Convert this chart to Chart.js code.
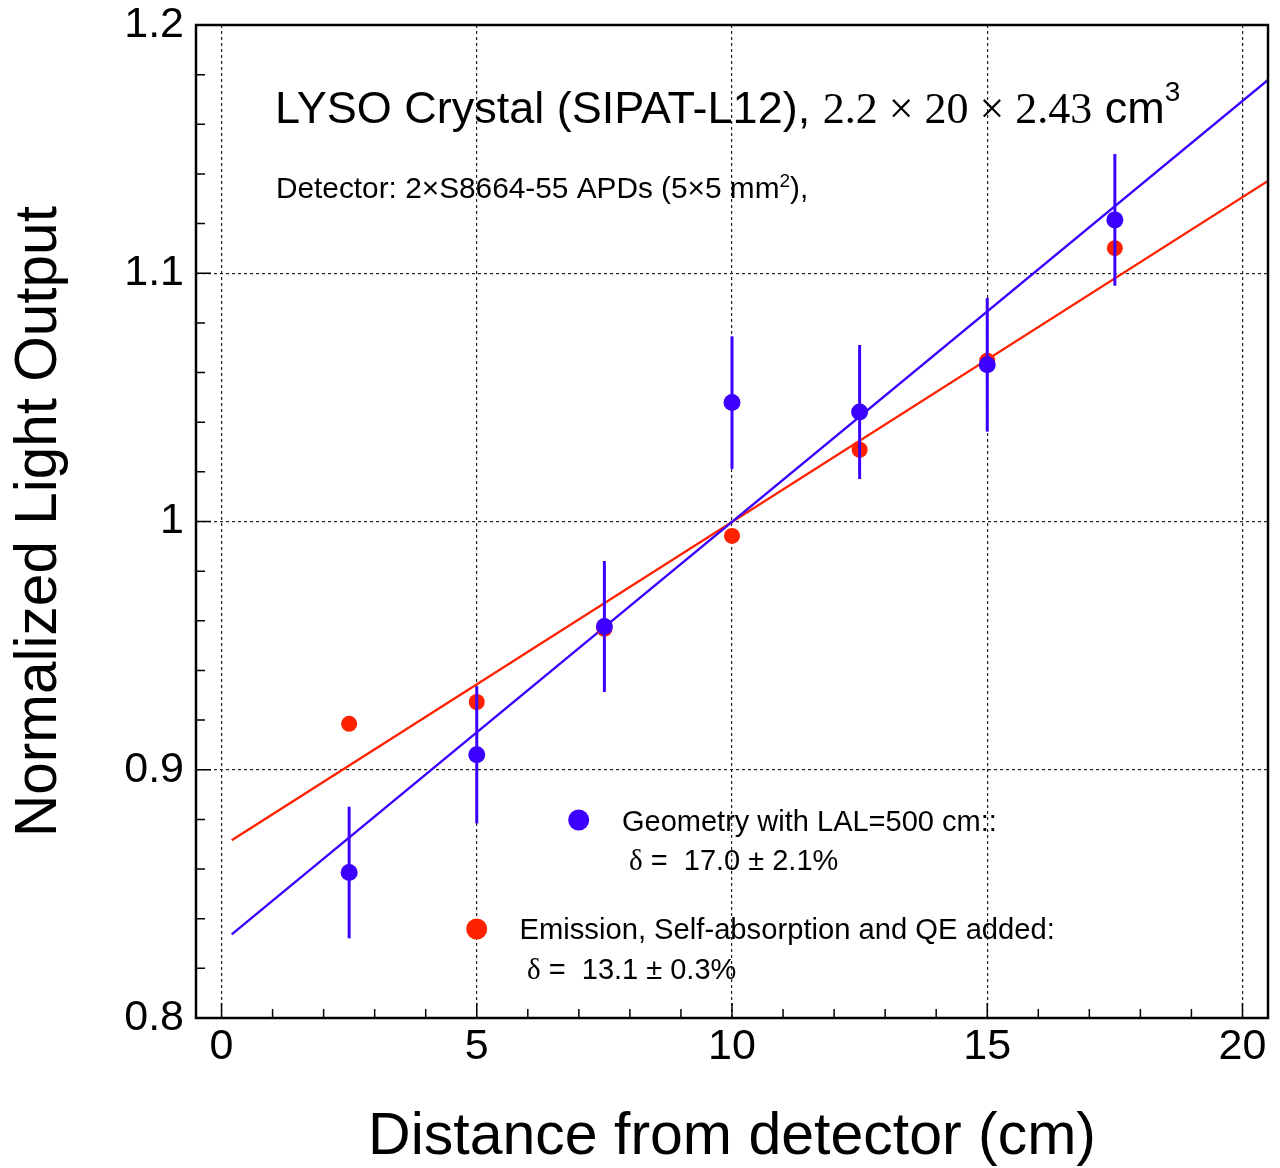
<!DOCTYPE html>
<html>
<head>
<meta charset="utf-8">
<script src="https://cdn.jsdelivr.net/npm/chart.js@4.4.1/dist/chart.umd.min.js"></script>
<style>
  html, body { margin: 0; padding: 0; background: #fff; }
  #wrap { width: 1280px; height: 1168px; position: relative; }
</style>
</head>
<body>
<div id="wrap"><canvas id="lyso"></canvas></div>
<script>
// distance from detector (cm)
const positions = [2.5, 5, 7.5, 10, 12.5, 15, 17.5];
// geometry with LAL=500 cm, with errors
const geomLO = [0.8586, 0.9060, 0.9577, 1.0479, 1.0441, 1.0631, 1.1215];
const geomErr = [0.0265, 0.0276, 0.0264, 0.0267, 0.0270, 0.0269, 0.0265];
// emission, self-absorption and QE added
const emisLO = [0.9185, 0.9273, 0.9568, 0.9942, 1.0289, 1.0648, 1.1101];
// linear fits (end points)
const fitX = [0.2, 20.5];
const geomFit = [0.8337, 1.1779];
const emisFit = [0.8716, 1.1372];

const xTicks = [0, 5, 10, 15, 20];
const yTicks = [0.8, 0.9, 1.0, 1.1, 1.2];

const BLUE = '#3c00ff';
const RED = '#ff2200';
const SANS = '"Liberation Sans", Arial, sans-serif';
const SERIF = '"Liberation Serif", "Times New Roman", serif';

function pts(xs, ys) {
    return xs.map(function (x, i) { return {x: x, y: ys[i]}; });
}

// vertical error bars, drawn just before the dataset that has them
const errorBars = {
    id: 'errorBars',
    beforeDatasetDraw(chart, args) {
        const ds = chart.data.datasets[args.index];
        if (!ds.errors) return;
        const ctx = chart.ctx, x = chart.scales.x, y = chart.scales.y;
        ctx.save();
        ctx.strokeStyle = ds.borderColor;
        ctx.lineWidth = 3;
        ds.data.forEach(function (p, i) {
            const px = x.getPixelForValue(p.x);
            ctx.beginPath();
            ctx.moveTo(px, y.getPixelForValue(p.y - ds.errors[i]));
            ctx.lineTo(px, y.getPixelForValue(p.y + ds.errors[i]));
            ctx.stroke();
        });
        ctx.restore();
    }
};

// box around the plot and inward tick marks
const frame = {
    id: 'frame',
    afterDatasetsDraw(chart) {
        const ctx = chart.ctx, a = chart.chartArea, x = chart.scales.x, y = chart.scales.y;
        ctx.save();
        ctx.strokeStyle = '#000';
        ctx.lineWidth = 1.5;
        ctx.beginPath();
        for (let v = 0; v <= 20; v++) {
            const px = x.getPixelForValue(v);
            ctx.moveTo(px, a.bottom);
            ctx.lineTo(px, a.bottom - (v % 5 ? 9 : 15));
        }
        for (let k = 0; k <= 20; k++) {
            const py = y.getPixelForValue(0.8 + k * 0.02);
            ctx.moveTo(a.left, py);
            ctx.lineTo(a.left + (k % 5 ? 9 : 15), py);
        }
        ctx.stroke();
        ctx.lineWidth = 2.5;
        ctx.strokeRect(a.left, a.top, a.right - a.left, a.bottom - a.top);
        ctx.restore();
    }
};

function runs(ctx, x, y, parts) {
    parts.forEach(function (p) {
        ctx.font = p.font;
        ctx.fillText(p.text, x, y - (p.rise || 0));
        x += ctx.measureText(p.text).width;
    });
}

// title, detector note and the legend
const notes = {
    id: 'notes',
    afterDraw(chart) {
        const ctx = chart.ctx;
        ctx.save();
        ctx.fillStyle = '#000';
        ctx.textBaseline = 'alphabetic';
        ctx.textAlign = 'left';
        runs(ctx, 275, 123, [
            {text: 'LYSO Crystal (SIPAT-L12), ', font: '45px ' + SANS},
            {text: '2.2 \u00d7 20 \u00d7 2.43', font: '44px ' + SERIF},
            {text: ' cm', font: '45px ' + SANS},
            {text: '3', font: '28px ' + SANS, rise: 22}
        ]);
        runs(ctx, 276, 198, [
            {text: 'Detector: 2\u00d7S8664-55 APDs (5\u00d75 mm', font: '29.8px ' + SANS},
            {text: '2', font: '19px ' + SANS, rise: 11},
            {text: '),', font: '29.8px ' + SANS}
        ]);

        ctx.fillStyle = BLUE;
        ctx.beginPath();
        ctx.arc(578.7, 820, 10.5, 0, Math.PI * 2);
        ctx.fill();
        ctx.fillStyle = RED;
        ctx.beginPath();
        ctx.arc(476.7, 929, 10.5, 0, Math.PI * 2);
        ctx.fill();

        ctx.fillStyle = '#000';
        runs(ctx, 622, 831, [{text: 'Geometry with LAL=500 cm::', font: '29px ' + SANS}]);
        runs(ctx, 629, 870, [
            {text: '\u03b4', font: '29px ' + SERIF},
            {text: ' =  17.0 \u00b1 2.1%', font: '29px ' + SANS}
        ]);
        runs(ctx, 519.5, 939, [{text: 'Emission, Self-absorption and QE added:', font: '29.2px ' + SANS}]);
        runs(ctx, 527, 979, [
            {text: '\u03b4', font: '29px ' + SERIF},
            {text: ' =  13.1 \u00b1 0.3%', font: '29px ' + SANS}
        ]);
        ctx.restore();
    }
};

const lysoConfig = {
    type: 'scatter',
    data: {
        datasets: [{
            label: 'Geometry with LAL=500 cm',
            data: pts(positions, geomLO),
            errors: geomErr,
            backgroundColor: BLUE,
            borderColor: BLUE,
            pointRadius: 8.5,
            pointBorderWidth: 0,
            order: 0
        },
        {
            label: 'Emission, Self-absorption and QE added',
            data: pts(positions, emisLO),
            backgroundColor: RED,
            borderColor: RED,
            pointRadius: 8,
            pointBorderWidth: 0,
            order: 1
        },
        {
            label: 'Geometry fit',
            data: pts(fitX, geomFit),
            showLine: true,
            borderColor: BLUE,
            borderWidth: 2.4,
            pointRadius: 0,
            order: 2
        },
        {
            label: 'Emission fit',
            data: pts(fitX, emisFit),
            showLine: true,
            borderColor: RED,
            borderWidth: 2.4,
            pointRadius: 0,
            order: 3
        }]
    },
    options: {
        responsive: true,
        maintainAspectRatio: false,
        animation: false,
        events: [],
        layout: {padding: {top: 25, right: 12, left: 0, bottom: 0}},
        plugins: {
            legend: {display: false},
            tooltip: {enabled: false}
        },
        scales: {
            x: {
                type: 'linear',
                min: -0.5,
                max: 20.5,
                afterBuildTicks: function (s) { s.ticks = xTicks.map(function (v) { return {value: v}; }); },
                afterFit: function (s) {
                    s.height = 150;
                    s.paddingLeft = 0;
                    s.paddingRight = 0;
                },
                grid: {color: '#222', lineWidth: 1.2, drawTicks: false},
                border: {display: false, dash: [3, 3]},
                ticks: {
                    color: '#000',
                    padding: 3,
                    font: {family: SANS, size: 43},
                    callback: function (v) { return String(v); }
                },
                title: {
                    display: true,
                    text: 'Distance from detector (cm)',
                    color: '#000',
                    font: {family: SANS, size: 59, lineHeight: 1},
                    padding: {top: 0, bottom: 1}
                }
            },
            y: {
                type: 'linear',
                min: 0.8,
                max: 1.2,
                afterBuildTicks: function (s) { s.ticks = yTicks.map(function (v) { return {value: v}; }); },
                afterFit: function (s) {
                    s.width = 196;
                    s.paddingTop = 0;
                    s.paddingBottom = 0;
                },
                grid: {color: '#222', lineWidth: 1.2, drawTicks: false},
                border: {display: false, dash: [3, 3]},
                ticks: {
                    color: '#000',
                    padding: 12,
                    font: {family: SANS, size: 43},
                    callback: function (v) { return String(+v.toFixed(2)); }
                },
                title: {
                    display: true,
                    text: 'Normalized Light Output',
                    color: '#000',
                    font: {family: SANS, size: 58.5, lineHeight: 1},
                    padding: {top: 11, bottom: 0}
                }
            }
        }
    },
    plugins: [errorBars, frame, notes]
};

document.addEventListener('DOMContentLoaded', function () {
    new Chart(document.getElementById('lyso'), lysoConfig);
});
</script>
</body>
</html>
